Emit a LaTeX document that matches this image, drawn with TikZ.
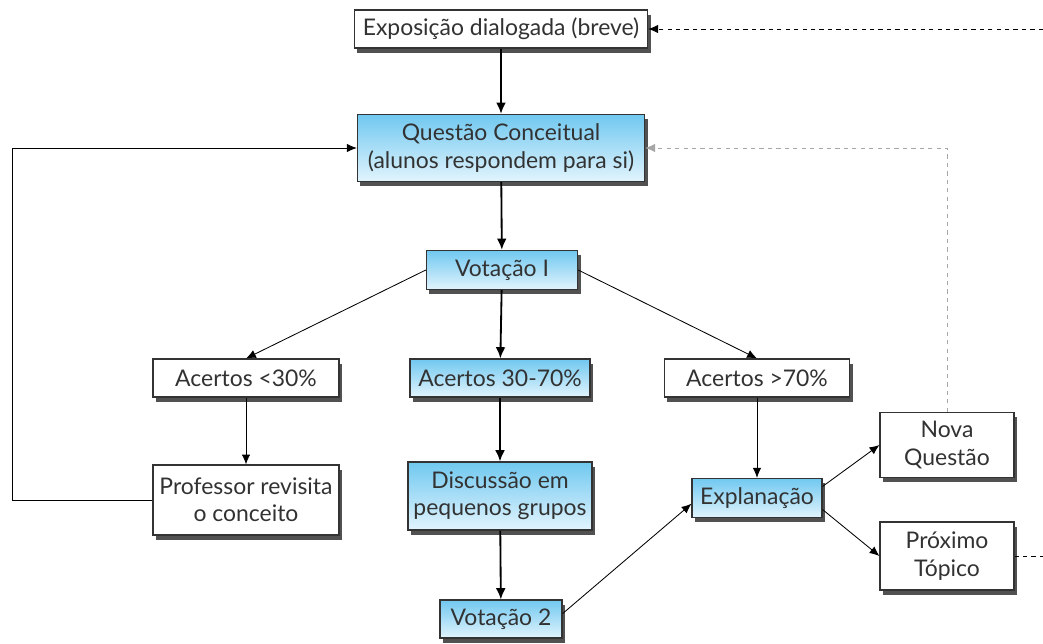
\documentclass[tikz,border=0pt]{standalone}
\usepackage{fontspec}
\setmainfont{Lato}
\usepackage{tikz}
\usetikzlibrary{arrows,arrows.meta,shadows,calc,positioning}
\definecolor{azulTopo}{RGB}{112,200,240}
\definecolor{azulBase}{RGB}{226,244,253}
\definecolor{cinzaTexto}{RGB}{50,50,50}

\begin{document}
\begin{tikzpicture}[x=0.025cm,y=-0.025cm,
  caixa/.style={draw=black!80,line width=0.8pt,fill=white,align=center,inner sep=1pt,
    text=cinzaTexto,font=\fontsize{16.3}{19.5}\selectfont,
    drop shadow={shadow xshift=2.2pt,shadow yshift=-3.4pt,opacity=0.8,fill=black!85}},
  azul/.style={caixa,top color=azulTopo,bottom color=azulBase},
  seta/.style={-{Latex[length=7pt,width=6pt]},line width=0.6pt},
  setagrossa/.style={-{Latex[length=8pt,width=7pt]},line width=1.3pt}]
\useasboundingbox (0,0) rectangle (1043,643);

\node[caixa,minimum width=7.33cm,minimum height=0.95cm] (expo) at (501,29) {Exposição dialogada (breve)};
\node[azul,minimum width=7.18cm,minimum height=1.68cm] (questao) at (501,148) {Questão Conceitual\\(alunos respondem para si)};
\node[azul,minimum width=3.78cm,minimum height=0.98cm] (vot1) at (502,270) {Votação I};
\node[caixa,minimum width=4.65cm,minimum height=0.95cm] (ac30) at (246,378) {Acertos <30\%};
\node[azul,minimum width=4.5cm,minimum height=0.95cm] (ac3070) at (500,378) {Acertos 30-70\%};
\node[caixa,minimum width=4.63cm,minimum height=0.95cm] (ac70) at (757,378) {Acertos >70\%};
\node[caixa,minimum width=4.65cm,minimum height=1.75cm] (prof) at (246,500) {Professor revisita\\o conceito};
\node[azul,minimum width=4.6cm,minimum height=1.7cm] (disc) at (500,496) {Discussão em\\pequenos grupos};
\node[azul,minimum width=3.05cm,minimum height=0.95cm] (vot2) at (501,619) {Votação 2};
\node[azul,minimum width=3.25cm,minimum height=0.98cm] (expl) at (757,498) {Explanação};
\node[caixa,minimum width=3.35cm,minimum height=1.63cm] (nova) at (947,445) {Nova\\Questão};
\node[caixa,minimum width=3.35cm,minimum height=1.7cm] (prox) at (947,556) {Próximo\\Tópico};

\coordinate (entrada) at (1043,29);
\coordinate (saida) at (1043,556);

% coluna central
\draw[setagrossa] (expo) -- (questao);
\draw[setagrossa] (questao) -- (vot1);
\draw[setagrossa] (vot1) -- (ac3070);
\draw[setagrossa] (ac3070) -- (disc);
\draw[setagrossa] (disc) -- (vot2);

% ramos
\draw[seta] (vot1.west) -- (ac30.north);
\draw[seta] (vot1.east) -- (ac70.north);
\draw[seta] (ac30) -- (prof);
\draw[seta] (ac70) -- (expl);
\draw[seta] (vot2.5) -- (expl.185);
\draw[seta] (expl.10) -- (nova.west);
\draw[seta] (expl.-10) -- (prox.west);
\draw[seta] (prof.west) -- (12,500) |- (questao.west);

% retornos tracejados
\draw[seta,dashed] (entrada) -- (expo.east);
\draw[seta,dashed,black!35] (nova.north) |- (questao.east);
\draw[line width=0.6pt,dashed] (prox.east) -- (saida);
\end{tikzpicture}
\end{document}
